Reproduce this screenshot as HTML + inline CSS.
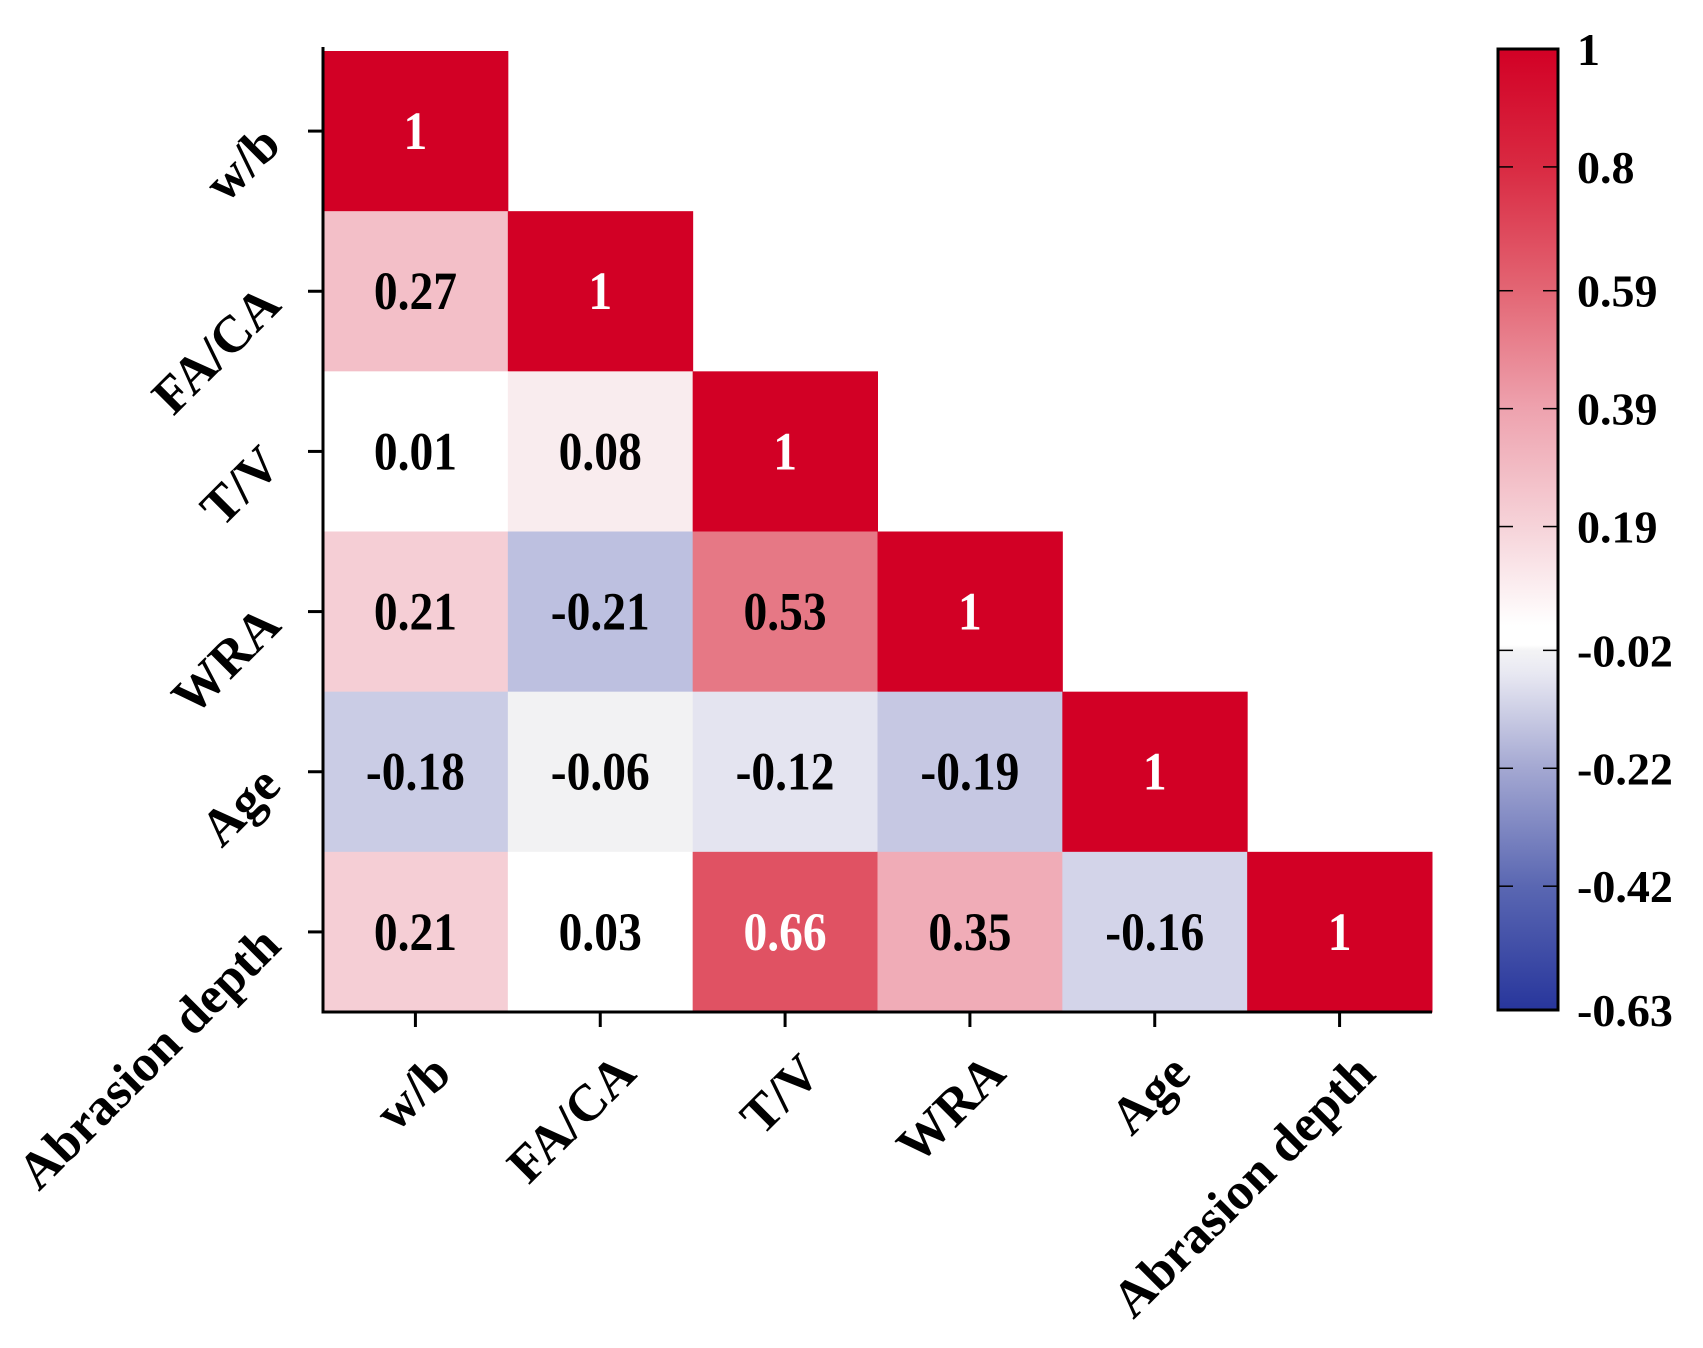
<!DOCTYPE html>
<html><head><meta charset="utf-8"><style>
html,body{margin:0;padding:0;background:#fff}
svg text{font-family:"Liberation Serif",serif;font-weight:bold}
</style></head><body>
<svg id="chart" width="1703" height="1343" viewBox="0 0 1703 1343" xmlns="http://www.w3.org/2000/svg">
<defs>
<linearGradient id="cbar" x1="0" y1="1" x2="0" y2="0">
<stop offset="0" stop-color="#28369c"/>
<stop offset="0.129" stop-color="#5a67b2"/>
<stop offset="0.252" stop-color="#a4a8d2"/>
<stop offset="0.35" stop-color="#e8e8f2"/>
<stop offset="0.374" stop-color="#f3f3f5"/>
<stop offset="0.38" stop-color="#ffffff"/>
<stop offset="0.40" stop-color="#ffffff"/>
<stop offset="0.503" stop-color="#f6d3d9"/>
<stop offset="0.626" stop-color="#eea2ae"/>
<stop offset="0.748" stop-color="#e36674"/>
<stop offset="0.877" stop-color="#d92a42"/>
<stop offset="1" stop-color="#d20025"/>
</linearGradient>
</defs>
<g id="cells"></g>
<g id="axes"></g>
<g id="cb"></g>
</svg>
<script>
const labels = ["w/b","FA/CA","T/V","WRA","Age","Abrasion depth"];
const row0 = [1];
const row1 = [0.27,1];
const row2 = [0.01,0.08,1];
const row3 = [0.21,-0.21,0.53,1];
const row4 = [-0.18,-0.06,-0.12,-0.19,1];
const row5 = [0.21,0.03,0.66,0.35,-0.16,1];
const rows = [row0,row1,row2,row3,row4,row5];
const cbTicks = [1,0.8,0.59,0.39,0.19,-0.02,-0.22,-0.42,-0.63];
const vmin = -0.63, vmax = 1;

const NS = "http://www.w3.org/2000/svg";
const L = 323, R = 1432, T = 51, B = 1012;
const cw = (R-L)/labels.length, ch = (B-T)/labels.length;
const xPos = i => L + cw*i;
const yPos = j => T + ch*j;

const stops = [[-0.63,[40,54,156]],[-0.42,[90,103,178]],[-0.22,[185,188,222]],[-0.12,[228,228,240]],[-0.06,[242,242,243]],[-0.02,[255,255,255]],[0.04,[255,255,255]],[0.08,[249,236,238]],[0.19,[246,211,217]],[0.39,[238,162,174]],[0.59,[227,102,116]],[0.8,[217,42,66]],[1,[210,0,37]]];
function color(v){
  for(let k=1;k<stops.length;k++){
    if(v<=stops[k][0]){
      const a=stops[k-1],b=stops[k],t=(v-a[0])/(b[0]-a[0]);
      const c=a[1].map((x,i)=>Math.round(x+(b[1][i]-x)*t));
      return `rgb(${c.join(',')})`;
    }
  }
  return "rgb(210,0,37)";
}
function mk(tag, attrs, parent){
  const e=document.createElementNS(NS,tag);
  for(const k in attrs) e.setAttribute(k,attrs[k]);
  parent.appendChild(e); return e;
}
const cells=document.getElementById('cells');
rows.forEach((r,j)=>r.forEach((v,i)=>{
  const rect=mk('rect',{x:xPos(i),y:yPos(j),width:cw+0.5,height:ch+0.5,fill:color(v)},cells);
  
  
  const cx=xPos(i)+cw/2;
  const t=mk('text',{x:cx,y:yPos(j)+ch/2+18,'text-anchor':'middle','font-size':54,fill:(v>0.6?'#fff':'#000'),transform:`translate(${cx},0) scale(0.88,1) translate(${-cx},0)`},cells);
  t.textContent=String(v);
  
  
}));
const ax=document.getElementById('axes');
mk('path',{d:`M${L},${T-4} V${B} H${R}`,fill:'none',stroke:'#000','stroke-width':3},ax);
labels.forEach((lab,j)=>{
  const cy=yPos(j)+ch/2;
  mk('line',{x1:L-15,y1:cy,x2:L,y2:cy,stroke:'#000','stroke-width':3},ax);
  const t=mk('text',{x:0,y:0,'text-anchor':'end','font-size':52,transform:`translate(${L-40},${cy+16}) rotate(-45)`},ax);
  t.textContent=lab;
  
  
  const cx=xPos(j)+cw/2;
  mk('line',{x1:cx,y1:B,x2:cx,y2:B+15,stroke:'#000','stroke-width':3},ax);
  const u=mk('text',{x:0,y:0,'text-anchor':'end','font-size':52,transform:`translate(${cx+38},${B+64}) rotate(-45)`},ax);
  u.textContent=lab;
  
  
});
const cb=document.getElementById('cb');
const cbL=1498,cbR=1558,cbT=49,cbB=1010;
const cbY=v=>cbB-(v-vmin)/(vmax-vmin)*(cbB-cbT);
mk('rect',{x:cbL,y:cbT,width:cbR-cbL,height:cbB-cbT,fill:'url(#cbar)',stroke:'#000','stroke-width':3},cb);
cbTicks.forEach(v=>{
  const y=cbY(v);
  if(v!==1&&v!==vmin){
    mk('line',{x1:cbL,y1:y,x2:cbL+15,y2:y,stroke:'#000','stroke-width':1.5},cb);
    mk('line',{x1:cbR-15,y1:y,x2:cbR,y2:y,stroke:'#000','stroke-width':1.5},cb);
  }
  const t=mk('text',{x:1577,y:y+16,'font-size':46},cb);
  t.textContent=String(v);
  
  
});
</script>
</body></html>
